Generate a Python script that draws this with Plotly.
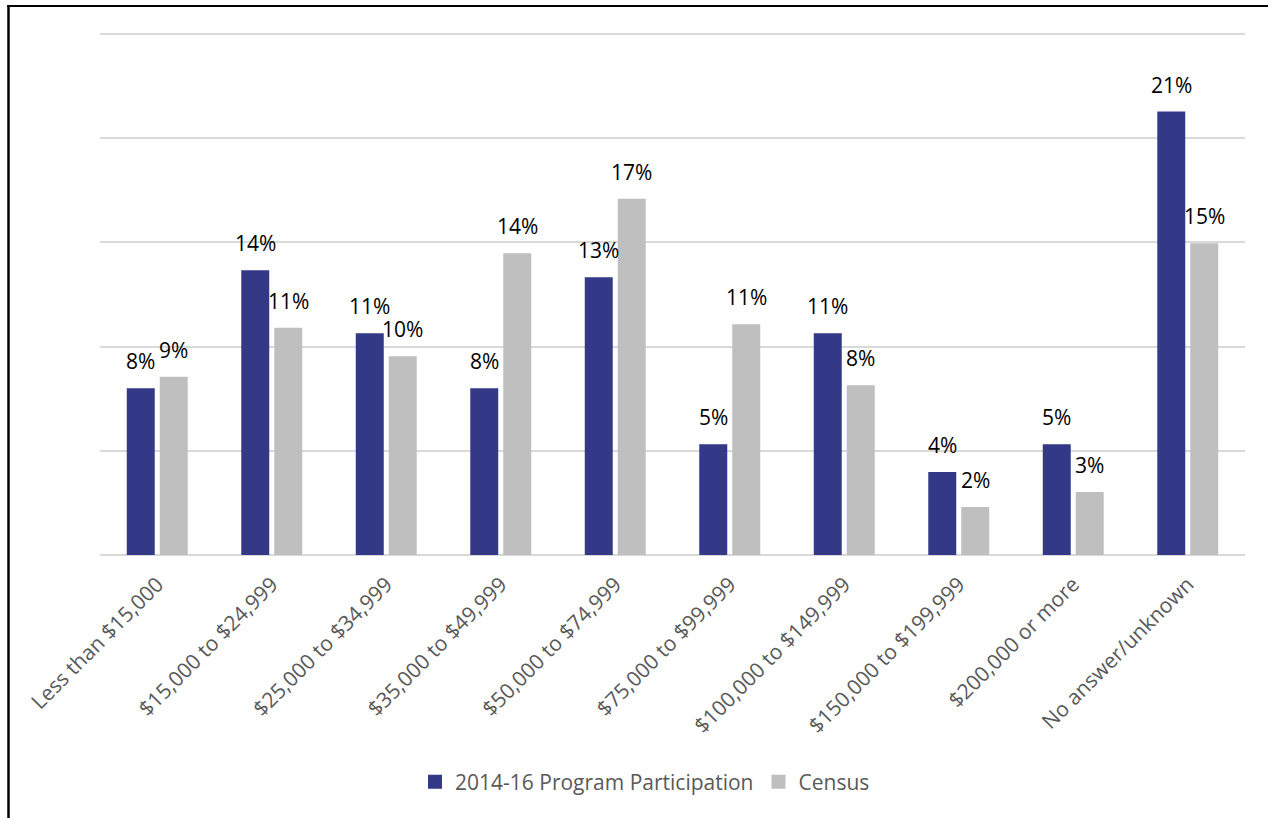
import plotly.graph_objects as go

categories = ["Less than $15,000", "$15,000 to $24,999", "$25,000 to $34,999",
              "$35,000 to $49,999", "$50,000 to $74,999", "$75,000 to $99,999",
              "$100,000 to $149,999", "$150,000 to $199,999", "$200,000 or more",
              "No answer/unknown"]
program = [8.0, 13.66, 10.64, 8.0, 13.33, 5.32, 10.64, 3.98, 5.32, 21.28]
census = [8.55, 10.9, 9.54, 14.48, 17.1, 11.07, 8.15, 2.3, 3.02, 14.96]
series_names = ["2014-16 Program Participation", "Census"]
colors = ["#333887", "#BFBFBF"]

FONT = "Open Sans"
W, H = 1272, 818
L, R, T, B = 100, 27, 30, 263
pw = W - L - R
ph = H - T - B
ymax = ph / ((555 - 34) / 25)

fig = go.Figure()
for name, vals, col in zip(series_names, [program, census], colors):
    fig.add_trace(go.Bar(x=categories, y=vals, name=name, marker_color=col,
                         marker_line_width=0, hoverinfo="x+y", showlegend=False,
                         legendgroup=name))
# legend entries with larger square swatches
for name, col in zip(series_names, colors):
    fig.add_trace(go.Scatter(x=[None], y=[None], mode="markers", name=name,
                             legendgroup=name,
                             marker=dict(symbol="square", size=14, color=col)))

slot = (1 - 0.424) * pw / 10 / 2
annotations = []
for vals, shift in [(program, -slot / 2), (census, slot / 2)]:
    for c, v in zip(categories, vals):
        annotations.append(dict(x=c, y=v, xref="x", yref="y", text=f"{int(v + 0.5)}%",
                                showarrow=False, yanchor="bottom", xanchor="center",
                                xshift=shift, yshift=11,
                                font=dict(family=FONT, size=21, color="#000000")))

def px_x(p):
    return (p - L) / pw

def px_y(p):
    return (H - B - p) / ph

shapes = [
    dict(type="line", xref="paper", yref="paper", x0=px_x(8.5), x1=px_x(8.5),
         y0=px_y(5), y1=px_y(H + 5), line=dict(color="black", width=2.5)),
    dict(type="line", xref="paper", yref="paper", x0=px_x(7), x1=px_x(1268),
         y0=px_y(6), y1=px_y(6), line=dict(color="black", width=2)),
]

fig.update_layout(
    width=W, height=H,
    margin=dict(l=L, r=R, t=T, b=B),
    paper_bgcolor="white", plot_bgcolor="white",
    barmode="group", bargap=0.424, bargroupgap=0.1515,
    font=dict(family=FONT, size=21, color="#595959"),
    xaxis=dict(tickangle=-45, showgrid=False, showline=False, ticks="",
               ticklabelstandoff=12,
               tickfont=dict(family=FONT, size=21, color="#595959")),
    yaxis=dict(range=[0, ymax], dtick=5, showticklabels=False, showgrid=True,
               gridcolor="#D9D9D9", gridwidth=2, zeroline=True,
               zerolinecolor="#D9D9D9", zerolinewidth=2, showline=False, fixedrange=True),
    legend=dict(orientation="h", x=px_x(645), y=px_y(782), xanchor="center",
                yanchor="middle", font=dict(family=FONT, size=21, color="#595959"),
                itemwidth=30, tracegroupgap=0),
    annotations=annotations,
    shapes=shapes,
)

fig.write_html("out.html", config={"displayModeBar": False},
               post_script="document.body.style.margin='0px';")
